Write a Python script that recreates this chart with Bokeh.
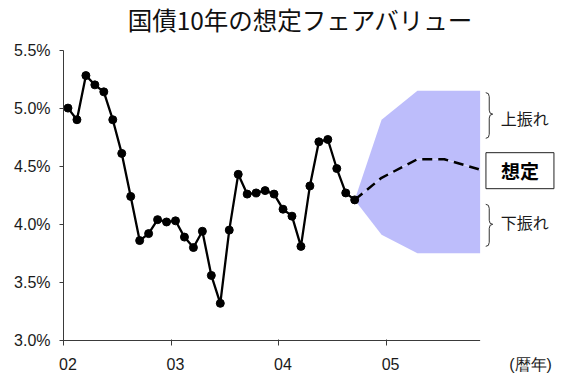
from bokeh.plotting import figure
from bokeh.models import Range1d, FixedTicker, PrintfTickFormatter, ColumnDataSource
from bokeh.core.properties import value
from bokeh.embed import file_html
from bokeh.resources import INLINE

# --- data -------------------------------------------------------------
# monthly 10-year yield (%), Jan 2002 .. Sep 2004
hist_start = "2002-01"
hist_values = [5.00, 4.90, 5.28, 5.20, 5.14, 4.90, 4.61, 4.24, 3.86, 3.92,
               4.04, 4.02, 4.03, 3.89, 3.80, 3.94, 3.56, 3.32, 3.95, 4.43,
               4.26, 4.27, 4.29, 4.26, 4.13, 4.07, 3.81, 4.33, 4.71, 4.73,
               4.48, 4.27, 4.21]

# assumed fair-value path
fc_months = ["2004-09", "2004-12", "2005-04", "2005-07", "2005-11"]
fc_values = [4.21, 4.40, 4.56, 4.56, 4.47]

# upside / downside range
band_months = ["2004-09", "2004-12", "2005-04", "2005-11"]
band_upper = [4.21, 4.90, 5.15, 5.15]
band_lower = [4.21, 3.91, 3.75, 3.75]

year_ticks = [2002, 2003, 2004, 2005]
tick_labels = ["02", "03", "04", "05"]
y_ticks = [3.0, 3.5, 4.0, 4.5, 5.0, 5.5]

title_text = "国債10年の想定フェアバリュー"
unit_text = "(暦年)"
up_text = "上振れ"
down_text = "下振れ"
base_text = "想定"


def month_x(ym):
    """Month string 'YYYY-MM' -> x position (months since Jan 2002, mid-month)."""
    y, m = ym.split("-")
    return (int(y) - 2002) * 12 + (int(m) - 1) + 0.5


y0, m0 = map(int, hist_start.split("-"))
hist_x = [(y0 - 2002) * 12 + (m0 - 1) + i + 0.5 for i in range(len(hist_values))]
fc_x = [month_x(s) for s in fc_months]
band_x = [month_x(s) for s in band_months]

# --- figure geometry ------------------------------------------------
# The frame reaches the top of the canvas so the title can be drawn as a
# glyph; the y axis itself is bounded to 3.0 .. 5.5.
W, H = 569, 376
L, R, B = 63, 3, 35
PX_PER_MONTH = 8.96
PX_PER_PCT = 116.2
frame_w = W - L - R
frame_h = H - B
dx = 1.0 / PX_PER_MONTH
dy = 1.0 / PX_PER_PCT
ymin, ymax = 3.0, 5.5
y_start = ymin - 1 * dy              # keeps the drawn x-axis line inside the frame
y_end = y_start + frame_h * dy
x_end = frame_w * dx

JP_FONT = "Noto Sans CJK JP"
TICK_FONT = "Liberation Sans"
AX_COLOR = "#3a3a3a"

p = figure(width=W, height=H, output_backend="svg", toolbar_location=None,
           x_range=Range1d(0, x_end), y_range=Range1d(y_start, y_end),
           min_border_left=L, min_border_right=R, min_border_top=0,
           min_border_bottom=B)
p.background_fill_color = "white"
p.border_fill_color = "white"
p.outline_line_color = None
p.xgrid.visible = False
p.ygrid.visible = False

# x axis: labels sit mid-January, tick marks at year boundaries
year_pos = [(yr - 2002) * 12 for yr in year_ticks]
unit_pos = (530 - L) * dx
xa = p.xaxis[0]
xa.ticker = FixedTicker(ticks=[v + 0.5 for v in year_pos] + [unit_pos],
                        minor_ticks=year_pos)
labels = {v + 0.5: lab for v, lab in zip(year_pos, tick_labels)}
labels[unit_pos] = unit_text
xa.major_label_overrides = labels
xa.axis_line_color = None
xa.major_tick_out = 0
xa.major_tick_in = 0
xa.minor_tick_out = 4
xa.minor_tick_in = 2
xa.minor_tick_line_color = AX_COLOR
xa.major_label_standoff = 10
xa.major_label_text_font = TICK_FONT
xa.major_label_text_font_size = "16px"
xa.major_label_text_color = "#1a1a1a"

ya = p.yaxis[0]
ya.bounds = (ymin, ymax)
ya.ticker = FixedTicker(ticks=y_ticks)
ya.formatter = PrintfTickFormatter(format="%.1f%%")
ya.axis_line_color = AX_COLOR
ya.major_tick_line_color = AX_COLOR
ya.major_tick_out = 4
ya.major_tick_in = 0
ya.minor_tick_out = 0
ya.minor_tick_in = 0
ya.major_label_standoff = 9
ya.major_label_text_font = TICK_FONT
ya.major_label_text_font_size = "16px"
ya.major_label_text_color = "#1a1a1a"

# x-axis baseline, ending where the outlook ends
p.segment(x0=[0], y0=[ymin], x1=[band_x[-1]], y1=[ymin],
          line_color=AX_COLOR, line_width=1)

# --- marks ------------------------------------------------------------
p.varea(x=band_x, y1=band_lower, y2=band_upper, fill_color="#bdbdfb",
        fill_alpha=1.0)

p.line(fc_x, fc_values, line_color="white", line_width=0.8, line_alpha=0.6)
p.line(fc_x, fc_values, line_color="black", line_width=2.5,
       line_dash="10 6")

src = ColumnDataSource(dict(x=hist_x, y=hist_values))
p.line("x", "y", source=src, line_color="black", line_width=2.3)
p.scatter("x", "y", source=src, size=8, marker="circle",
          fill_color="black", line_color="black")

# --- braces beside the range --------------------------------------
def brace(x_left, y_top, y_bot, y_tip, color="#333333"):
    xm = x_left + 3.5 * dx
    xt = x_left + 7 * dx
    r = 4 * dy
    p.quadratic(x0=[x_left, xm, xt, xm], y0=[y_top, y_tip + r, y_tip, y_bot + r],
                x1=[xm, xt, xm, x_left], y1=[y_top - r, y_tip, y_tip - r, y_bot],
                cx=[xm, xm, xm, xm], cy=[y_top, y_tip, y_tip, y_bot],
                line_color=color, line_width=1)
    p.segment(x0=[xm, xm], y0=[y_top - r, y_tip - r],
              x1=[xm, xm], y1=[y_tip + r, y_bot + r],
              line_color=color, line_width=1)


brace_x = band_x[-1] + 5.6 * dx
text_x = brace_x + 15 * dx
brace(brace_x, max(band_upper) - 2 * dy, 4.74, 4.948)
brace(brace_x, 4.172, min(band_lower) + 7 * dy, 4.0)

p.text(x=[text_x, text_x], y=[4.914, 4.017], text=[up_text, down_text],
       text_font=value(JP_FONT), text_font_size="16px", text_color="#1a1a1a",
       text_align="left", text_baseline="middle")

box_cx = brace_x + 34.2 * dx
box_cy = fc_values[-1] - 1 * dy
p.rect(x=[box_cx], y=[box_cy], width=68 * dx, height=36 * dy,
       fill_color="white", line_color="#222222", line_width=1)
p.text(x=[box_cx], y=[box_cy], text=[base_text], text_font=value(JP_FONT),
       text_font_size="19px", text_font_style="bold", text_color="black",
       text_align="center", text_baseline="middle")

# --- title ----------------------------------------------------------
p.text(x=[(300 - L) * dx], y=[ymax + 31 * dy], text=[title_text],
       text_font=value(JP_FONT), text_font_size="24.5px", text_color="#111111",
       text_align="center", text_baseline="middle")

open("out.html", "w").write(file_html(p, INLINE))
